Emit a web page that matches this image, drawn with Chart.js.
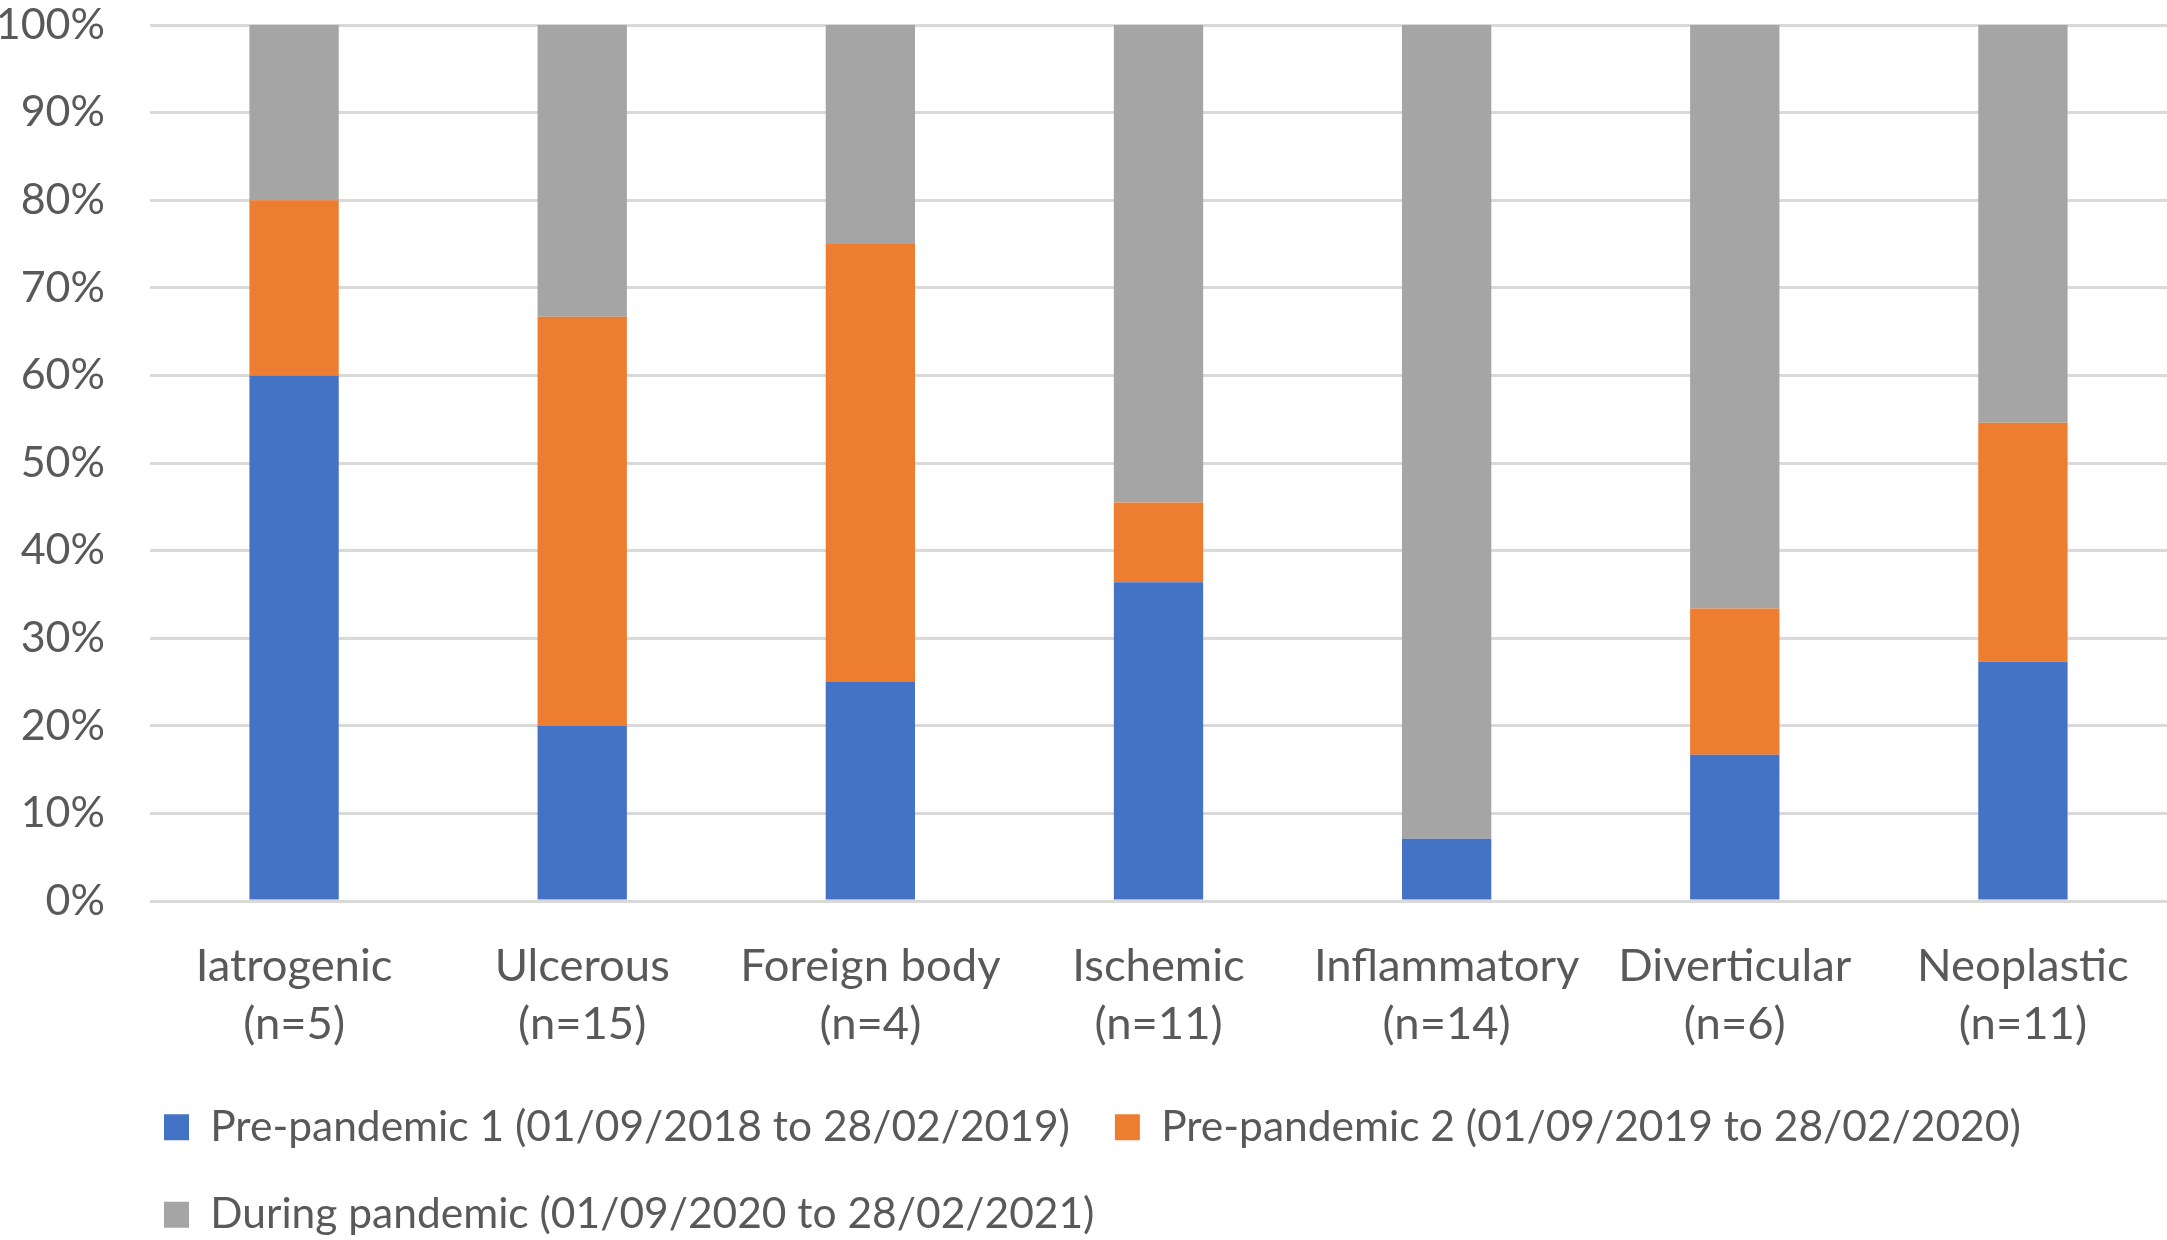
<!DOCTYPE html>
<html>
<head>
<meta charset="utf-8">
<script src="https://cdn.jsdelivr.net/npm/chart.js@4.4.1/dist/chart.umd.min.js"></script>
<style>
  body { margin: 0; background: #fff; }
  #wrap { width: 2167px; height: 1240px; position: relative; }
</style>
</head>
<body>
<div id="wrap"><canvas id="myChart"></canvas></div>
<script>
// Categories (two-line labels)
const categories = [
    ['Iatrogenic', '(n=5)'],
    ['Ulcerous', '(n=15)'],
    ['Foreign body', '(n=4)'],
    ['Ischemic', '(n=11)'],
    ['Inflammatory', '(n=14)'],
    ['Diverticular', '(n=6)'],
    ['Neoplastic', '(n=11)']
];

// Percentages per period
const prePandemic1 = [60, 20, 25, 36.4, 7.1, 16.7, 27.3];
const prePandemic2 = [20, 46.7, 50, 9.1, 0, 16.7, 27.3];
const duringPandemic = [20, 33.3, 25, 54.5, 92.9, 66.6, 45.4];

const seriesNames = [
    'Pre-pandemic 1 (01/09/2018 to 28/02/2019)',
    'Pre-pandemic 2 (01/09/2019 to 28/02/2020)',
    'During pandemic (01/09/2020 to 28/02/2021)'
];

const textColor = '#595959';
const fontFamily = 'Lato, "Open Sans", sans-serif';

// Đẩy chú thích sang phải như bản gốc
const legendShift = {
    id: 'legendShift',
    afterLayout(chart) {
        chart.legend.left = 119;
    }
};

const ctx = document.getElementById('myChart').getContext('2d');

const myChart = new Chart(ctx, {
    type: 'bar',
    data: {
        labels: categories,
        datasets: [
            { label: seriesNames[0], data: prePandemic1, backgroundColor: '#4472C4' },
            { label: seriesNames[1], data: prePandemic2, backgroundColor: '#ED7D31' },
            { label: seriesNames[2], data: duringPandemic, backgroundColor: '#A5A5A5' }
        ]
    },
    options: {
        responsive: true,
        maintainAspectRatio: false,
        animation: false,
        devicePixelRatio: 1,
        layout: { padding: { top: 25, right: 0, bottom: -6, left: 0 } },
        datasets: {
            bar: { barPercentage: 0.31, categoryPercentage: 1 }
        },
        plugins: {
            tooltip: { enabled: false },
            legend: {
                position: 'bottom',
                align: 'start',
                labels: {
                    boxWidth: 25,
                    boxHeight: 26,
                    padding: 45,
                    color: textColor,
                    font: { family: fontFamily, size: 42.5 }
                }
            }
        },
        scales: {
            x: {
                stacked: true,
                grid: { display: false },
                border: { display: false },
                ticks: {
                    color: textColor,
                    padding: 28,
                    maxRotation: 0,
                    font: { family: fontFamily, size: 45.4, lineHeight: 1.28 }
                },
                afterFit(scale) { scale.height = 160; }
            },
            y: {
                stacked: true,
                min: 0,
                max: 100,
                grid: { color: '#D9D9D9', lineWidth: 3, drawTicks: false },
                border: { display: false },
                ticks: {
                    stepSize: 10,
                    padding: 45,
                    color: textColor,
                    font: { family: fontFamily, size: 43 },
                    callback: (v) => v + '%'
                },
                afterFit(scale) {
                    scale.width = 150;
                    scale.paddingTop = 0;
                    scale.paddingBottom = 0;
                }
            }
        }
    },
    plugins: [legendShift]
});
</script>
</body>
</html>
